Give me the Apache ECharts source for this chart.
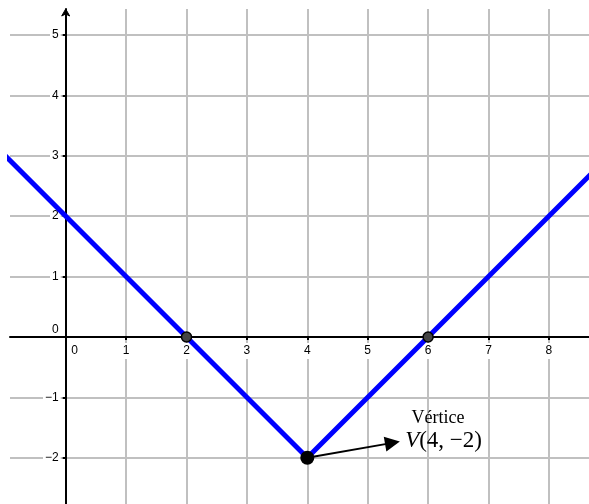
<!DOCTYPE html>
<html>
<head>
<meta charset="utf-8">
<script src="https://cdn.jsdelivr.net/npm/echarts@6/dist/echarts.min.js"></script>
<style>html,body{margin:0;padding:0;background:#fff;}#c{width:589px;height:504px;}</style>
</head>
<body>
<div id="c"></div>
<script>
// Function y = |x - 4| - 2, polyline vertices (beyond visible window)
const lineX = [-1, 4, 9];
const lineY = [3, -2, 3];
// x-intercepts
const interceptX = [2, 6];
const interceptY = [0, 0];
// vertex
const vertexX = [4];
const vertexY = [-2];
// annotation
const arrowFrom = [4, -2];
const arrowTo = [5.41, -1.753];
const titleText = 'Vértice';
const titleAt = [6.164, -1.341];
const vertexLabelAt = [5.62, -1.722];
// tick values
const xTicks = [0, 1, 2, 3, 4, 5, 6, 7, 8];
const yTicks = [-2, -1, 0, 1, 2, 3, 4, 5];
// visible window
const xMin = -0.9222, xMax = 8.664, yMin = -2.765, yMax = 5.430;

const W = 589, H = 504;
const G = {left: 10, top: 9, right: 0, bottom: 0};
const gw = W - G.left - G.right, gh = H - G.top - G.bottom;
// shift axes so they sit on the zero lines
const yAxisOffset = -((0 - xMin) / (xMax - xMin) * gw);
const xAxisOffset = -((0 - yMin) / (yMax - yMin) * gh);

const minus = v => (v < 0 ? '\u2212' + (-v) : String(v));

const chart = echarts.init(document.getElementById('c'), null, {renderer: 'canvas'});

const option = {
  animation: false,
  backgroundColor: '#fff',
  grid: {
    left: G.left, top: G.top, right: G.right, bottom: G.bottom,
    containLabel: false,
    outerBoundsMode: 'none'
  },
  xAxis: {
    type: 'value', min: xMin, max: xMax, position: 'bottom', offset: xAxisOffset,
    axisLine: {show: true, onZero: false, lineStyle: {color: '#000', width: 2}},
    axisTick: {show: true, length: 3, customValues: xTicks, lineStyle: {color: '#000', width: 2}},
    splitLine: {show: true, lineStyle: {color: '#c0c0c0', width: 2}},
    axisLabel: {
      margin: 6,
      customValues: xTicks,
      formatter: v => v === 0 ? '{z|0}' : '{a|' + minus(v) + '}',
      rich: {
        a: {fontSize: 12, fontFamily: 'Liberation Sans', color: '#000', backgroundColor: '#fff', padding: [2, 3, 2, 3]},
        z: {fontSize: 12, fontFamily: 'Liberation Sans', color: '#000', padding: [2, 0, 2, 18]}
      }
    }
  },
  yAxis: {
    type: 'value', min: yMin, max: yMax, position: 'left', offset: yAxisOffset,
    axisLine: {show: true, onZero: false, lineStyle: {color: '#000', width: 2}},
    axisTick: {show: true, length: 3, customValues: yTicks, lineStyle: {color: '#000', width: 2}},
    splitLine: {show: true, lineStyle: {color: '#c0c0c0', width: 2}},
    axisLabel: {
      margin: 5,
      customValues: yTicks,
      formatter: v => v === 0 ? '{z|0}' : '{a|' + minus(v) + '}',
      rich: {
        a: {fontSize: 12, fontFamily: 'Liberation Sans', color: '#000', backgroundColor: '#fff', padding: [1, 2, 1, 2]},
        z: {fontSize: 12, fontFamily: 'Liberation Sans', color: '#000', padding: [0, 2, 14, 0]}
      }
    }
  },
  series: [
    {
      type: 'line',
      data: lineX.map((x, i) => [x, lineY[i]]),
      showSymbol: false,
      lineStyle: {color: '#0000ff', width: 5},
      clip: true,
      z: 3
    },
    {
      type: 'lines',
      coordinateSystem: 'cartesian2d',
      data: [{coords: [arrowFrom, arrowTo]}],
      symbol: ['none', 'triangle'],
      symbolSize: [14, 15],
      lineStyle: {color: '#000', width: 2, opacity: 1},
      itemStyle: {color: '#000'},
      z: 4
    },
    {
      type: 'scatter',
      data: interceptX.map((x, i) => [x, interceptY[i]]),
      symbolSize: 10,
      itemStyle: {color: '#444', borderColor: '#000', borderWidth: 1.5, opacity: 1},
      z: 5
    },
    {
      type: 'scatter',
      data: vertexX.map((x, i) => [x, vertexY[i]]),
      symbolSize: 14,
      itemStyle: {color: '#000', opacity: 1},
      z: 5
    }
  ]
};
chart.setOption(option);

const pTitle = chart.convertToPixel({gridIndex: 0}, titleAt);
const pV = chart.convertToPixel({gridIndex: 0}, vertexLabelAt);
const pAxisTop = chart.convertToPixel({gridIndex: 0}, [0, yMax]);
const axX = pAxisTop[0];
const axTop = pAxisTop[1];

chart.setOption({
  graphic: [
    {type: 'polygon', shape: {points: [[axX - 4, axTop + 7], [axX, axTop], [axX + 4, axTop + 7], [axX, axTop + 5]]}, style: {fill: '#000', stroke: '#000', lineWidth: 1}, z: 101},
    {type: 'text', x: pTitle[0], y: pTitle[1], style: {text: titleText, font: '18px "Liberation Serif"', fill: '#000', align: 'center', verticalAlign: 'middle'}, z: 101},
    {type: 'text', x: pV[0], y: pV[1], style: {
      text: '{i|V}{n|(4, \u22122)}',
      align: 'left', verticalAlign: 'middle',
      rich: {
        i: {font: 'italic 23px "Liberation Serif"', fill: '#000'},
        n: {font: '23px "Liberation Serif"', fill: '#000'}
      }
    }, z: 101}
  ]
});
</script>
</body>
</html>
